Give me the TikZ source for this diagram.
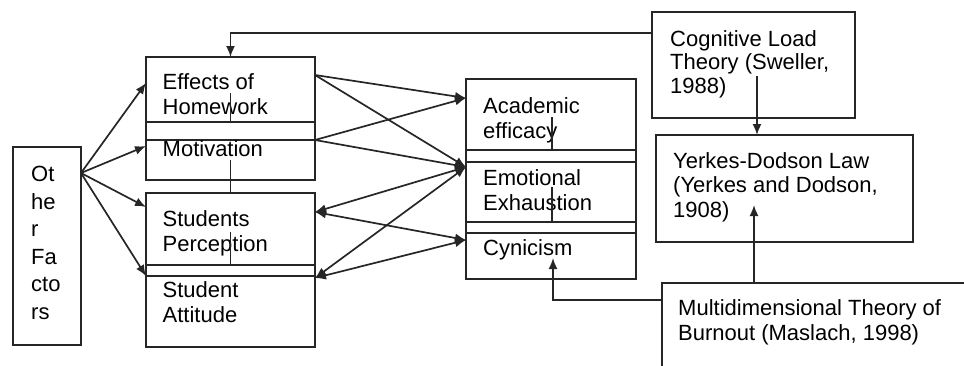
\documentclass[tikz,border=0pt]{standalone}
\usepackage{fontspec}
\setmainfont{Liberation Sans}
\usetikzlibrary{arrows.meta}

\begin{document}
\begin{tikzpicture}[x=1pt,y=-1pt,
	box/.style={draw=black!85,line width=1.7pt,anchor=north west,inner sep=0pt,outer sep=0pt},
	txt/.style={anchor=north west,inner sep=0pt,align=left,font=\fontsize{22}{25}\selectfont},
	arr/.style={draw=black!85,line width=1.7pt,-{Latex[length=11pt,width=9pt]}},
	dbl/.style={arr,{Latex[length=11pt,width=9pt]}-{Latex[length=11pt,width=9pt]}},
	stem/.style={draw=black!85,line width=1.7pt}]
	\path[use as bounding box] (0,0) rectangle (964,365);
	\clip (0,0) rectangle (964,365);
	% the boxes
	\node[box,minimum width=68pt,minimum height=198pt] (others) at (13,147) {};
	\node[box,minimum width=169pt,minimum height=123pt] (grpa) at (146,57) {};
	\node[box,minimum width=169pt,minimum height=65pt] (homework) at (146,57) {};
	\node[box,minimum width=169pt,minimum height=40pt] (motivation) at (146,140) {};
	\node[box,minimum width=169pt,minimum height=154pt] (grpb) at (146,193) {};
	\node[box,minimum width=169pt,minimum height=72pt] (perception) at (146,193) {};
	\node[box,minimum width=169pt,minimum height=71pt] (attitude) at (146,276) {};
	\node[box,minimum width=170pt,minimum height=200pt] (grpc) at (466,79) {};
	\node[box,minimum width=170pt,minimum height=71pt] (efficacy) at (466,79) {};
	\node[box,minimum width=170pt,minimum height=60pt] (exhaustion) at (466,162) {};
	\node[box,minimum width=170pt,minimum height=46pt] (cynicism) at (466,233) {};
	\node[box,minimum width=203pt,minimum height=106pt] (cognitive) at (652,12) {};
	\node[box,minimum width=257pt,minimum height=107pt] (yerkes) at (656,135) {};
	\node[box,minimum width=400pt,minimum height=120pt] (multi) at (662,283) {};
	%% the labels
	\node[txt,font=\fontsize{22}{27.5}\selectfont] (others-t) at ([shift={(18,19)}]others.north west) {Ot\\he\\r\\Fa\\cto\\rs};
	\node[txt] (homework-t) at ([shift={(16.5,16)}]homework.north west) {Effects of\\Homework};
	\node[txt] (motivation-t) at ([shift={(16.5,0)}]motivation.north west) {Motivation};
	\node[txt] (perception-t) at ([shift={(16.5,17)}]perception.north west) {Students\\Perception};
	\node[txt] (attitude-t) at ([shift={(16.5,5)}]attitude.north west) {Student\\Attitude};
	\node[txt] (efficacy-t) at ([shift={(17,18)}]efficacy.north west) {Academic\\efficacy};
	\node[txt] (exhaustion-t) at ([shift={(17,7)}]exhaustion.north west) {Emotional\\Exhaustion};
	\node[txt] (cynicism-t) at ([shift={(17,6)}]cynicism.north west) {Cynicism};
	\node[txt,font=\fontsize{22}{23.5}\selectfont] (cognitive-t) at ([shift={(18,18)}]cognitive.north west) {Cognitive Load\\Theory (Sweller,\\1988)};
	\node[txt,font=\fontsize{22}{24.5}\selectfont] (yerkes-t) at ([shift={(17,17)}]yerkes.north west) {Yerkes-Dodson Law\\(Yerkes and Dodson,\\1908)};
	\node[txt] (multi-t) at ([shift={(16,16)}]multi.north west) {Multidimensional Theory of\\Burnout (Maslach, 1998)};
	% lines inside the groups
	\draw[stem] ([shift={(0,-29)}]homework.south) -- (homework.south);
	\draw[stem] ([shift={(0,-20)}]motivation.south) -- (perception.north);
	\draw[stem] ([shift={(0,-33)}]perception.south) -- (perception.south);
	\draw[stem] ([shift={(1,-33)}]efficacy.south) -- ([shift={(1,0)}]efficacy.south);
	\draw[stem] ([shift={(1,-35)}]exhaustion.south) -- ([shift={(1,0)}]exhaustion.south);
	% from other factors
	\draw[arr] ([shift={(0,26)}]others.north east) -- ([shift={(0,26)}]homework.north west);
	\draw[arr] ([shift={(0,26)}]others.north east) -- ([shift={(0,6)}]motivation.north west);
	\draw[arr] ([shift={(0,26)}]others.north east) -- ([shift={(0,14)}]perception.north west);
	\draw[arr] ([shift={(0,26)}]others.north east) -- (attitude.north west);
	% to the burnout boxes
	\draw[arr] ([shift={(0,18)}]homework.north east) -- ([shift={(0,19)}]efficacy.north west);
	\draw[arr] ([shift={(0,18)}]homework.north east) -- ([shift={(0,5)}]exhaustion.north west);
	\draw[arr] (motivation.north east) -- ([shift={(0,19)}]efficacy.north west);
	\draw[arr] (motivation.north east) -- ([shift={(0,5)}]exhaustion.north west);
	\draw[dbl] ([shift={(0,19)}]perception.north east) -- ([shift={(0,5)}]exhaustion.north west);
	\draw[dbl] ([shift={(0,19)}]perception.north east) -- ([shift={(0,7)}]cynicism.north west);
	\draw[dbl] ([shift={(0,2)}]attitude.north east) -- ([shift={(0,5)}]exhaustion.north west);
	\draw[dbl] ([shift={(0,2)}]attitude.north east) -- ([shift={(0,7)}]cynicism.north west);
	% the theories
	\draw[arr] ([shift={(0,21)}]cognitive.north west) -| (homework.north);
	\draw[arr] ([shift={(105,64)}]cognitive.north west) -- ([shift={(101,0)}]yerkes.north west);
	\draw[arr] ([shift={(92,0)}]multi.north west) -- ([shift={(98,70)}]yerkes.north west);
	\draw[arr] ([shift={(0,17)}]multi.north west) -| ([shift={(87,25)}]cynicism.north west);
\end{tikzpicture}
\end{document}
